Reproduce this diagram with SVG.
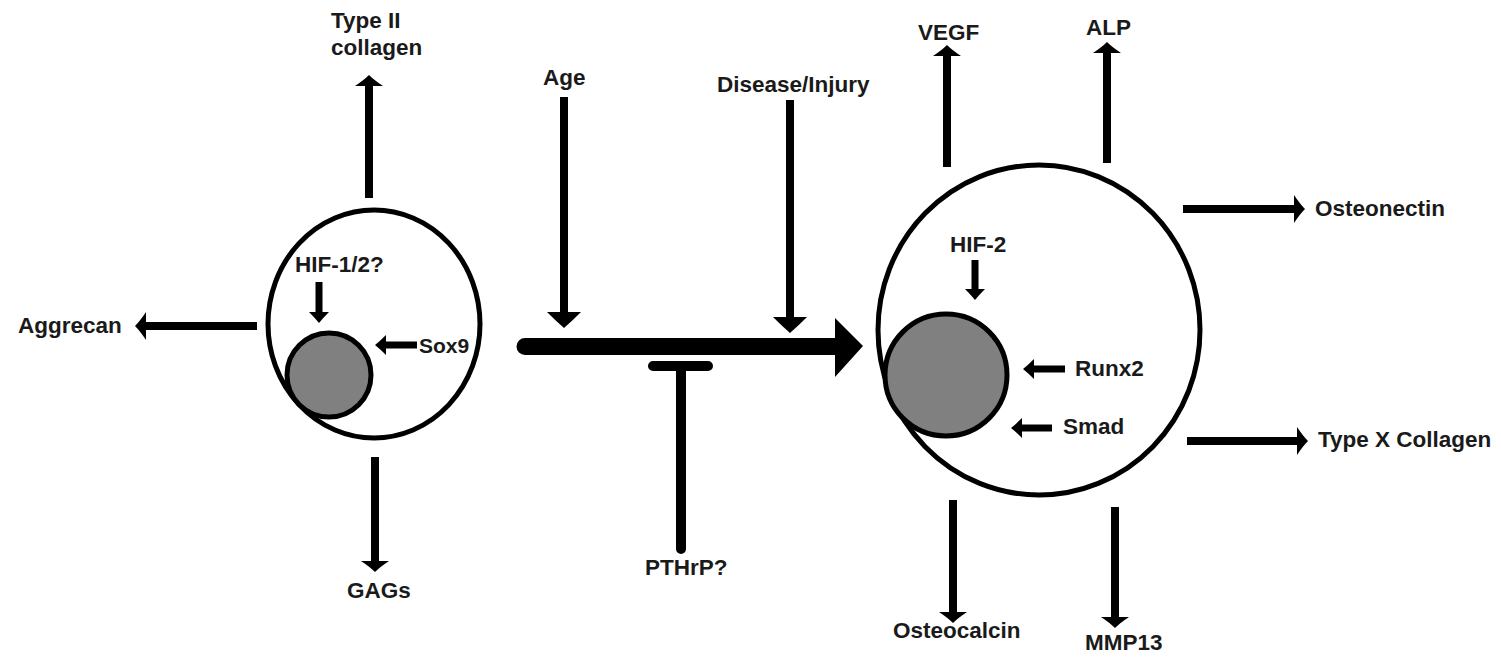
<svg xmlns="http://www.w3.org/2000/svg" width="1501" height="657" viewBox="0 0 1501 657">
<style>
text{font-family:"Liberation Sans",Arial,sans-serif;font-weight:bold;font-size:22.5px;fill:#1a1a1a}
.cell{fill:#fff;stroke:#000;stroke-width:5}
.nuc{fill:#808080;stroke:#000;stroke-width:5}
.a{fill:none;stroke:#000;stroke-width:8}
.s{fill:none;stroke:#000;stroke-width:7}
</style>
<defs>
<marker id="big" markerUnits="userSpaceOnUse" markerWidth="12" markerHeight="30" refX="0" refY="15" orient="auto" viewBox="0 0 12 30"><path d="M0,1 Q6,10 11,15 Q6,20 0,29 Z" fill="#000"/></marker>
<marker id="sm" markerUnits="userSpaceOnUse" markerWidth="12" markerHeight="22" refX="0" refY="11" orient="auto" viewBox="0 0 12 22"><path d="M0,1 Q6,7 11,11 Q6,15 0,21 Z" fill="#000"/></marker>
<marker id="ag" markerUnits="userSpaceOnUse" markerWidth="18" markerHeight="36" refX="0" refY="18" orient="auto" viewBox="0 0 18 36"><path d="M0,1 Q9,10 16,18 Q9,26 0,35 Z" fill="#000"/></marker>
</defs>
<rect width="1501" height="657" fill="#fff"/>
<g id="chondrocyte">
<ellipse class="cell" cx="374" cy="324" rx="106" ry="114"/>
<circle class="nuc" cx="329" cy="375" r="42"/>
</g>
<g id="hypertrophic">
<ellipse class="cell" cx="1039" cy="330" rx="161" ry="165"/>
<circle class="nuc" cx="946" cy="375" r="61"/>
</g>
<g id="connectors">
<path class="a" d="M369,198 V86" marker-end="url(#big)"/>
<path class="a" d="M257,326 H146" marker-end="url(#big)"/>
<path class="s" d="M319,282 V312" marker-end="url(#sm)"/>
<path class="s" d="M417,345 H386" marker-end="url(#sm)"/>
<path class="a" d="M375,457 V561" marker-end="url(#big)"/>
<path class="a" d="M564,97 V312" marker-end="url(#ag)"/>
<path class="a" d="M790,100 V317" marker-end="url(#ag)"/>
<path d="M525,338 H835 V318 L863,346 L835,377 V355 H525 A8.5,8.5 0 0 1 525,338 Z" fill="#000"/>
<path d="M653,366 H708 M681,366 V549" fill="none" stroke="#000" stroke-width="10" stroke-linecap="round"/>
<path class="a" d="M947,167 V56" marker-end="url(#big)"/>
<path class="a" d="M1107,163 V53" marker-end="url(#big)"/>
<path class="a" d="M1183,209 H1294" marker-end="url(#big)"/>
<path class="a" d="M1187,441 H1297" marker-end="url(#big)"/>
<path class="a" d="M953,500 V612" marker-end="url(#big)"/>
<path class="a" d="M1115,507 V617" marker-end="url(#big)"/>
<path class="s" d="M975,260 V289" marker-end="url(#sm)"/>
<path class="s" d="M1065,369 H1034" marker-end="url(#sm)"/>
<path class="s" d="M1052,428 H1022" marker-end="url(#sm)"/>
</g>
<g id="labels">
<text x="331" y="28">Type II</text>
<text x="331" y="55">collagen</text>
<text x="18" y="333">Aggrecan</text>
<text x="295" y="272">HIF-1/2?</text>
<text x="419" y="353" style="font-size:21px">Sox9</text>
<text x="347" y="598">GAGs</text>
<text x="543" y="85">Age</text>
<text x="717" y="92">Disease/Injury</text>
<text x="645" y="575">PTHrP?</text>
<text x="918" y="40">VEGF</text>
<text x="1086" y="35">ALP</text>
<text x="1315" y="216">Osteonectin</text>
<text x="1318" y="447">Type X Collagen</text>
<text x="950" y="252">HIF-2</text>
<text x="1075" y="376">Runx2</text>
<text x="1063" y="434">Smad</text>
<text x="893" y="638">Osteocalcin</text>
<text x="1085" y="650">MMP13</text>
</g>
</svg>
